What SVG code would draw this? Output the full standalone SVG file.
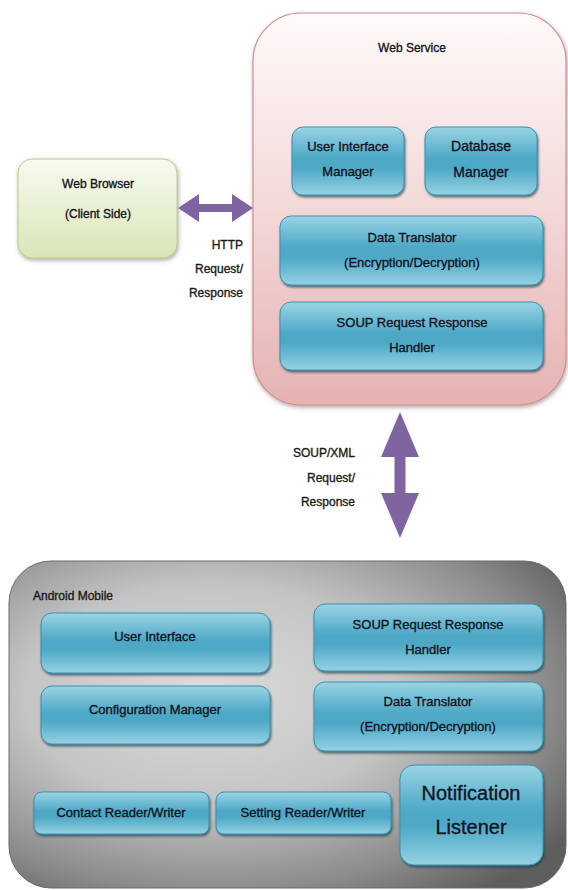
<svg xmlns="http://www.w3.org/2000/svg" width="568" height="890" viewBox="0 0 568 890">
<defs>
<linearGradient id="teal" x1="0" y1="0" x2="0" y2="1">
<stop offset="0" stop-color="#9ad4e4"/>
<stop offset="0.45" stop-color="#4ea9c7"/>
<stop offset="0.6" stop-color="#4da8c6"/>
<stop offset="1" stop-color="#95d1e3"/>
</linearGradient>
<linearGradient id="pink" x1="0" y1="0" x2="0" y2="1">
<stop offset="0" stop-color="#fffafa"/>
<stop offset="0.5" stop-color="#f3d8d8"/>
<stop offset="1" stop-color="#e6b2b2"/>
</linearGradient>
<linearGradient id="green" x1="0" y1="0" x2="0" y2="1">
<stop offset="0" stop-color="#f7fbee"/>
<stop offset="1" stop-color="#d9e6b9"/>
</linearGradient>
<radialGradient id="gray" cx="0.38" cy="0.42" r="0.75" fx="0.35" fy="0.4">
<stop offset="0" stop-color="#dcdcdc"/>
<stop offset="0.45" stop-color="#c4c4c4"/>
<stop offset="0.8" stop-color="#8a8a8a"/>
<stop offset="1" stop-color="#5e5e5e"/>
</radialGradient>
<filter id="sh" x="-10%" y="-10%" width="120%" height="130%">
<feDropShadow dx="1" dy="2" stdDeviation="1" flood-color="#1f3f4c" flood-opacity="0.7"/>
</filter>
<filter id="shc" x="-10%" y="-10%" width="120%" height="120%">
<feDropShadow dx="1" dy="2" stdDeviation="2" flood-color="#555" flood-opacity="0.5"/>
</filter>
<style>
.box{fill:url(#teal);stroke:#3b92b0;stroke-width:1;filter:url(#sh)}
.t{font-family:"Liberation Sans",Arial,sans-serif;font-size:13px;fill:#14141e;stroke:#14141e;stroke-width:0.35;text-anchor:middle}
.l{font-family:"Liberation Sans",Arial,sans-serif;font-size:12px;fill:#1a1a1a;stroke:#1a1a1a;stroke-width:0.35}
.arrow{fill:#8064a2}
</style>
</defs>

<g id="web-service">
<rect x="253" y="13" width="313" height="392" rx="48" fill="url(#pink)" stroke="#d48e8e" stroke-width="1.2" filter="url(#shc)"/>
<text class="t" x="412" y="52" style="font-size:12px">Web Service</text>
</g>
<g id="ui-manager">
<rect class="box" x="292" y="127" width="112" height="68" rx="11"/>
<text class="t" x="348" y="151">User Interface</text>
<text class="t" x="348" y="176">Manager</text>
</g>
<g id="db-manager">
<rect class="box" x="425" y="127" width="112" height="68" rx="11"/>
<text class="t" x="481" y="151" style="font-size:14px">Database</text>
<text class="t" x="481" y="177" style="font-size:14px">Manager</text>
</g>
<g id="ws-data-translator">
<rect class="box" x="280" y="216" width="263" height="69" rx="11"/>
<text class="t" x="412" y="242">Data Translator</text>
<text class="t" x="412" y="267">(Encryption/Decryption)</text>
</g>
<g id="ws-soup-handler">
<rect class="box" x="280" y="302" width="263" height="68" rx="11"/>
<text class="t" x="412" y="327">SOUP Request Response</text>
<text class="t" x="412" y="352">Handler</text>
</g>

<g id="web-browser">
<rect x="18" y="159" width="159" height="99" rx="14" fill="url(#green)" stroke="#b8cc8a" stroke-width="1" filter="url(#shc)"/>
<text class="t" x="98" y="188" style="font-size:12px">Web Browser</text>
<text class="t" x="98" y="218" style="font-size:12px">(Client Side)</text>
</g>

<g id="android-mobile">
<rect x="9" y="561" width="557" height="327" rx="42" fill="url(#gray)" stroke="#6a6a6a" stroke-width="1"/>
<text class="l" x="33" y="600">Android Mobile</text>
</g>
<g id="user-interface">
<rect class="box" x="41" y="613" width="229" height="60" rx="11"/>
<text class="t" x="155" y="641">User Interface</text>
</g>
<g id="configuration-manager">
<rect class="box" x="41" y="686" width="229" height="58" rx="11"/>
<text class="t" x="155" y="714">Configuration Manager</text>
</g>
<g id="am-soup-handler">
<rect class="box" x="314" y="604" width="229" height="67" rx="11"/>
<text class="t" x="428" y="629">SOUP Request Response</text>
<text class="t" x="428" y="654">Handler</text>
</g>
<g id="am-data-translator">
<rect class="box" x="314" y="682" width="229" height="69" rx="11"/>
<text class="t" x="428" y="706">Data Translator</text>
<text class="t" x="428" y="731">(Encryption/Decryption)</text>
</g>
<g id="contact-rw">
<rect class="box" x="34" y="792" width="175" height="42" rx="8"/>
<text class="t" x="121" y="817">Contact Reader/Writer</text>
</g>
<g id="setting-rw">
<rect class="box" x="216" y="792" width="175" height="42" rx="8"/>
<text class="t" x="303" y="817">Setting Reader/Writer</text>
</g>
<g id="notification-listener">
<rect class="box" x="400" y="765" width="143" height="100" rx="14"/>
<text class="t" x="471" y="800" style="font-size:20px">Notification</text>
<text class="t" x="471" y="834" style="font-size:20px">Listener</text>
</g>

<g id="connectors">
<polygon class="arrow" points="178,208 199,194 199,204 232,204 232,194 253,208 232,222 232,212 199,212 199,222"/>
<polygon class="arrow" points="400,412 419,457 405.5,457 405.5,493 419,493 400,538 381,493 394.5,493 394.5,457 381,457"/>
<text class="l" text-anchor="end" x="243" y="249">HTTP</text>
<text class="l" text-anchor="end" x="243" y="273">Request/</text>
<text class="l" text-anchor="end" x="243" y="297">Response</text>
<text class="l" text-anchor="end" x="355" y="457">SOUP/XML</text>
<text class="l" text-anchor="end" x="355" y="482">Request/</text>
<text class="l" text-anchor="end" x="355" y="506">Response</text>
</g>
</svg>
